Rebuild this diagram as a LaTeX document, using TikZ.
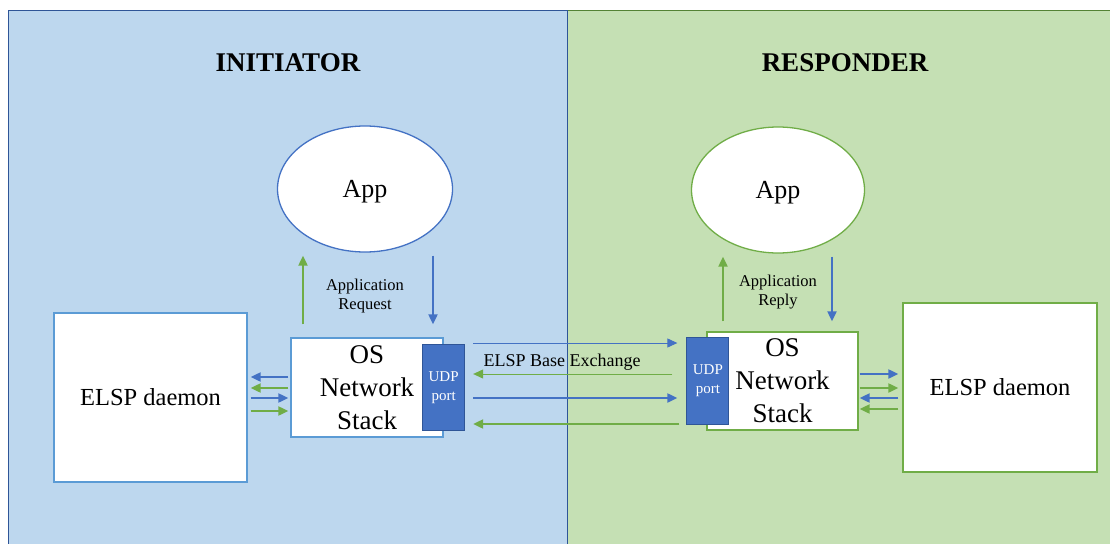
\documentclass[tikz,border=0pt]{standalone}
\usepackage{fontspec}
\setmainfont{Liberation Serif}
\usetikzlibrary{arrows.meta,positioning,shapes.geometric}

\definecolor{pnlblue}{HTML}{BDD7EE}
\definecolor{pnlgreen}{HTML}{C5E0B4}
\definecolor{arrblue}{HTML}{4472C4}
\definecolor{arrgreen}{HTML}{70AD47}
\definecolor{edgeblue}{HTML}{2F5597}
\definecolor{edgegreen}{HTML}{548235}
\definecolor{boxblue}{HTML}{5B9BD5}

\tikzset{
  box/.style={draw,fill=white,line width=1.3pt,inner sep=0pt},
  appnode/.style={box,ellipse,minimum height=126pt,text depth=0pt,font=\fontsize{26}{30}\selectfont},
  port/.style={fill=arrblue,draw=edgeblue,line width=1pt,inner sep=0pt,minimum width=42pt,text=white,align=center,font=\fontsize{15}{19}\selectfont},
  bluearr/.style={arrblue,line width=2pt,-{Triangle[length=10pt,width=9pt]}},
  greenarr/.style={arrgreen,line width=2pt,-{Triangle[length=10pt,width=9pt]}},
  thinarr/.style={line width=1pt},
}

\begin{document}
\begin{tikzpicture}[x=1pt,y=-1pt]

    \useasboundingbox (0,0) rectangle (1110,543);
    \fill[white] (0,0) rectangle (1110,543);
    \filldraw[fill=pnlgreen,draw=edgegreen,line width=1pt] (567,11) rectangle (1113,546); % responder
    \filldraw[fill=pnlblue,draw=edgeblue,line width=1pt] (8,11) rectangle (567,546); % initiator

    \node[font=\bfseries\fontsize{27}{32}\selectfont] (titleL) at (288,63) {INITIATOR};
    \node[font=\bfseries\fontsize{27}{32}\selectfont] (titleR) at (845,63) {RESPONDER};

    % initiator side
    \node[appnode,draw=arrblue,minimum width=175pt] (appL) at (365,189) {App};
    \node[box,draw=boxblue,minimum width=152pt,minimum height=99pt,align=center,font=\fontsize{27}{33}\selectfont] (stackL) at (367,387.5) {OS\\Network\\Stack};
    \node[port,minimum height=86pt] (udpL) at (stackL.east) {UDP\\port};
    \node[box,draw=boxblue,minimum width=193pt,minimum height=169pt,font=\fontsize{24.5}{29}\selectfont] (dmnL) at (150.5,397.5) {ELSP daemon};
    \node[align=center,font=\fontsize{16.5}{19.5}\selectfont] (reqL) at (365,296) {Application\\Request};

    % responder side
    \node[appnode,draw=arrgreen,minimum width=173pt] (appR) at (778,190) {App};
    \node[box,draw=arrgreen,minimum width=151pt,minimum height=98pt,align=center,font=\fontsize{27}{33}\selectfont] (stackR) at (782.5,381) {OS\\Network\\Stack};
    \node[port,minimum height=87pt] (udpR) at ([xshift=1.5pt]stackR.west) {UDP\\port};
    \node[box,draw=arrgreen,minimum width=194pt,minimum height=169pt,font=\fontsize{24.5}{29}\selectfont] (dmnR) at (1000,387.5) {ELSP daemon};
    \node[align=center,font=\fontsize{16.5}{19.5}\selectfont] (repR) at (778,292) {Application\\Reply};

    % app <-> stack
    \draw[greenarr,shorten <=13pt,shorten >=3pt] (stackL.north -| 303,0) -- (appL.south -| 303,0);
    \draw[bluearr,shorten <=3pt,shorten >=13pt] (appL.south -| 433,0) -- (stackL.north -| 433,0);
    \draw[greenarr,shorten <=10pt,shorten >=3pt] (stackR.north -| 723,0) -- (appR.south -| 723,0);
    \draw[bluearr,shorten <=3pt,shorten >=10pt] (appR.south -| 832,0) -- (stackR.north -| 832,0);

    % daemon <-> stack
    \draw[bluearr,shorten <=2pt,shorten >=3pt] (stackL.west |- 0,377) -- (dmnL.east |- 0,377);
    \draw[greenarr,shorten <=2pt,shorten >=3pt] (stackL.west |- 0,388) -- (dmnL.east |- 0,388);
    \draw[bluearr,shorten <=3pt,shorten >=2pt] (dmnL.east |- 0,398) -- (stackL.west |- 0,398);
    \draw[greenarr,shorten <=3pt,shorten >=2pt] (dmnL.east |- 0,411) -- (stackL.west |- 0,411);

    \draw[bluearr,shorten <=1pt,shorten >=4pt] (stackR.east |- 0,374) -- (dmnR.west |- 0,374);
    \draw[greenarr,shorten <=1pt,shorten >=4pt] (stackR.east |- 0,388) -- (dmnR.west |- 0,388);
    \draw[bluearr,shorten <=4pt,shorten >=1pt] (dmnR.west |- 0,398) -- (stackR.east |- 0,398);
    \draw[greenarr,shorten <=4pt,shorten >=1pt] (dmnR.west |- 0,409) -- (stackR.east |- 0,409);

    % base exchange
    \draw[bluearr,thinarr,shorten <=8pt,shorten >=9pt] (udpL.east |- 0,343) -- (udpR.west |- 0,343);
    \draw[greenarr,thinarr,shorten <=14pt,shorten >=8pt] (udpR.west |- 0,374) -- (udpL.east |- 0,374);
    \draw[bluearr,shorten <=8pt,shorten >=9pt] (udpL.east |- 0,398) -- (udpR.west |- 0,398);
    \draw[greenarr,shorten <=7pt,shorten >=8pt] (udpR.west |- 0,424) -- (udpL.east |- 0,424);
    \node[font=\fontsize{18}{21}\selectfont] (xchg) at (562,362) {ELSP Base Exchange};

  \end{tikzpicture}
\end{document}
